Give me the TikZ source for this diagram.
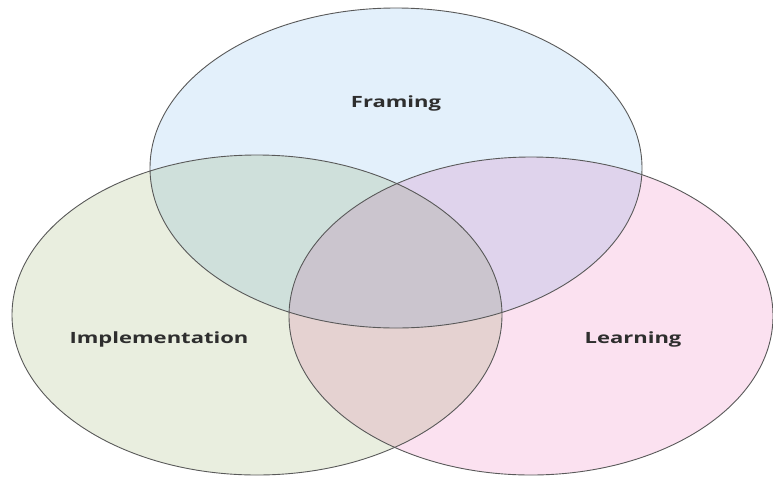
\documentclass[tikz,border=0pt]{standalone}
\usepackage{fontspec}
\setmainfont{Open Sans}
\begin{document}
\begin{tikzpicture}[x=1pt,y=-1pt,
  venn/.style={draw=black!65,line width=0.9pt},
  lbl/.style={font=\bfseries\fontsize{15.5}{17}\selectfont,text=black!82,xscale=1.42}]
\useasboundingbox (0,0) rectangle (773,477);
\fill[white] (0,0) rectangle (773,477);
\begin{scope}[blend group=multiply]
  \fill[fill={rgb,255:red,227;green,240;blue,251}] (396,168) ellipse [x radius=246,y radius=160];
  \fill[fill={rgb,255:red,233;green,238;blue,223}] (257,315) ellipse [x radius=245,y radius=160];
  \fill[fill={rgb,255:red,251;green,225;blue,240}] (531,316) ellipse [x radius=242,y radius=159];
\end{scope}
\draw[venn] (396,168) ellipse [x radius=246,y radius=160];
\draw[venn] (257,315) ellipse [x radius=245,y radius=160];
\draw[venn] (531,316) ellipse [x radius=242,y radius=159];
\node[lbl] (framing) at (396,103) {Framing};
\node[lbl] (impl) at (159,339) {Implementation};
\node[lbl] (learn) at (633,339) {Learning};
\end{tikzpicture}
\end{document}
